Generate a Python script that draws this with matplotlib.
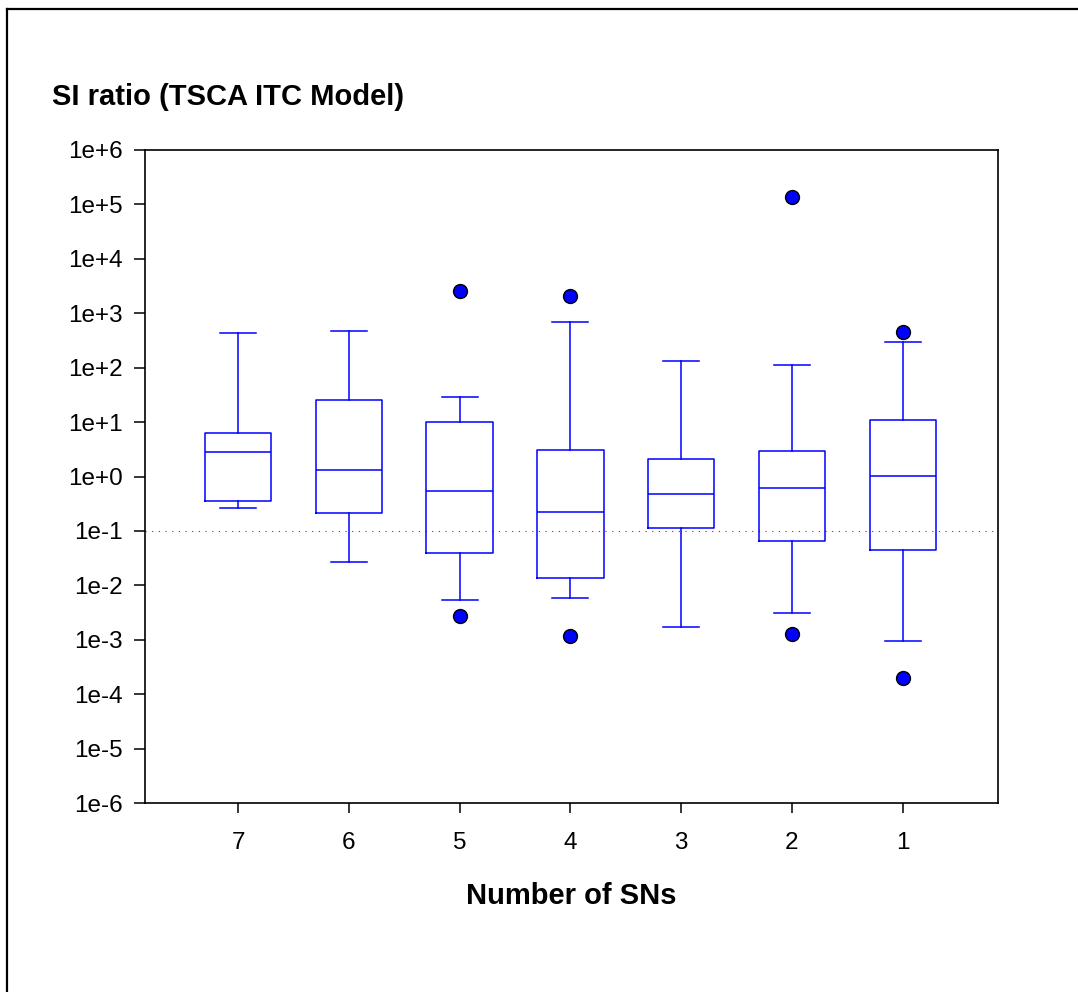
import numpy as np
import matplotlib.pyplot as plt
from matplotlib.lines import Line2D
from matplotlib.ticker import FixedLocator, FuncFormatter, NullLocator

plt.rcParams['font.family'] = ['Liberation Sans', 'DejaVu Sans']

# groups (number of SNs), left to right
groups = ["7", "6", "5", "4", "3", "2", "1"]

# box statistics
whislo = [0.261, 0.0272, 0.0053, 0.00578, 0.00169, 0.00307, 0.00095]
q1 = [0.355, 0.216, 0.0394, 0.0135, 0.112, 0.0662, 0.0447]
med = [2.79, 1.33, 0.535, 0.22, 0.483, 0.607, 1.035]
q3 = [6.4, 25.8, 10.2, 3.07, 2.07, 2.94, 10.9]
whishi = [434, 478, 28.6, 682, 133, 112, 300]
fliers = [[], [], [2600, 0.00274], [2075, 0.00117], [], [138700, 0.00128], [453, 0.000196]]

ref_line = 0.1

stats = []
for i, g in enumerate(groups):
    stats.append(dict(label=g, whislo=whislo[i], q1=q1[i], med=med[i],
                      q3=q3[i], whishi=whishi[i], fliers=fliers[i]))

fig = plt.figure(figsize=(10.78, 9.92), dpi=100)
ax = fig.add_axes([0.1345, 0.1905, 0.7913, 0.6583])

blue = '#0000ff'
line_kw = dict(color=blue, linewidth=1.1)
ax.bxp(stats, positions=range(1, len(groups) + 1), widths=0.6, capwidths=0.325,
       boxprops=line_kw, whiskerprops=line_kw, capprops=line_kw,
       medianprops=line_kw,
       flierprops=dict(marker='o', markerfacecolor=blue, markeredgecolor='black',
                       markersize=10, markeredgewidth=1.0, linestyle='none'))

ax.axhline(ref_line, color='red', linewidth=0.8, linestyle=(0, (1, 5)), zorder=0)

ax.set_yscale('log')
ax.set_ylim(1e-6, 1e6)
ax.set_xlim(0.16, 7.86)

exps = list(range(-6, 7))
ax.yaxis.set_major_locator(FixedLocator([10.0 ** e for e in exps]))
ax.yaxis.set_minor_locator(NullLocator())
ax.yaxis.set_major_formatter(FuncFormatter(
    lambda v, p: "1e%+d" % int(round(np.log10(v)))))

ax.tick_params(axis='y', direction='out', length=8, width=1.1, pad=8, labelsize=17.5)
ax.tick_params(axis='x', direction='out', length=7, width=1.1, pad=14, labelsize=17.5)
for s in ax.spines.values():
    s.set_linewidth(1.2)

fig.text(0.048, 0.902, "SI ratio (TSCA ITC Model)", fontsize=21, fontweight='bold',
         ha='left', va='center')
fig.text(0.53, 0.0968, "Number of SNs", fontsize=21, fontweight='bold',
         ha='center', va='center')

# outer frame (top and left edges visible)
fig.add_artist(Line2D([0.0065, 1.0], [1 - 9 / 992, 1 - 9 / 992], color='black',
                      linewidth=1.6, transform=fig.transFigure))
fig.add_artist(Line2D([0.0065, 0.0065], [0.0, 1 - 9 / 992], color='black',
                      linewidth=1.6, transform=fig.transFigure))

fig.savefig('out.png', dpi=100)
